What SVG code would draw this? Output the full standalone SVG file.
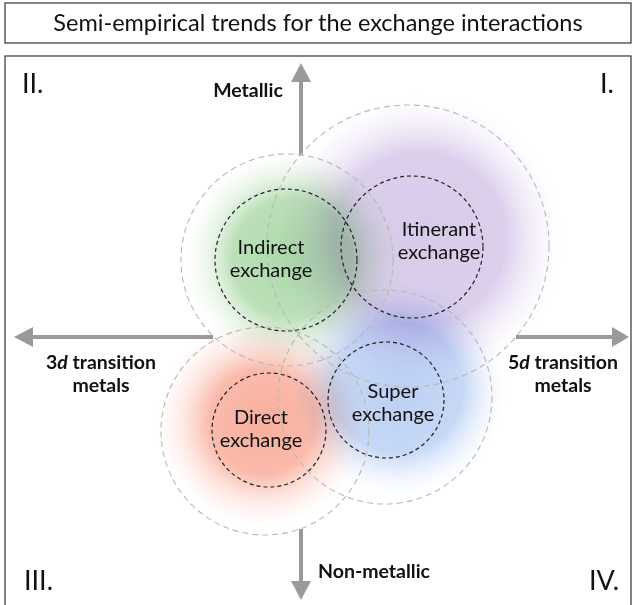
<svg xmlns="http://www.w3.org/2000/svg" width="634" height="605" viewBox="0 0 634 605">
<style>
.box{fill:#fff;stroke:#333;stroke-width:1.2}
.title{font-family:Lato,"Open Sans",sans-serif;font-size:23.5px;fill:#111;text-anchor:middle}
.quad{font-family:Lato,"Open Sans",sans-serif;font-size:27px;fill:#111}
.axl{font-family:Lato,"Open Sans",sans-serif;font-size:19.5px;font-weight:bold;fill:#111;text-anchor:middle}
.lbl{font-family:Lato,"Open Sans",sans-serif;font-size:20px;fill:#111;text-anchor:middle}
.outer{fill:none;stroke:#b8b8b8;stroke-width:1.1;stroke-dasharray:6 4}
.inner{fill:none;stroke:#222;stroke-width:1.2;stroke-dasharray:4 3}
.shaft{stroke:#9a9a9a;stroke-width:4;fill:none}
.head{fill:#9a9a9a}
.blob{mix-blend-mode:multiply}
</style>
<defs>
<radialGradient id="gGreen"><stop offset="0" stop-color="#acd9ab"/><stop offset="0.55" stop-color="#bce0b9"/><stop offset="1" stop-color="#eaf7e8" stop-opacity="0"/></radialGradient>
<radialGradient id="gPurple"><stop offset="0" stop-color="#d8cbe9"/><stop offset="0.6" stop-color="#dccfec"/><stop offset="1" stop-color="#f4eefb" stop-opacity="0"/></radialGradient>
<radialGradient id="gRed"><stop offset="0" stop-color="#f9ae9c"/><stop offset="0.5" stop-color="#fabbac"/><stop offset="1" stop-color="#fdece8" stop-opacity="0"/></radialGradient>
<radialGradient id="gBlue"><stop offset="0" stop-color="#bdd0f3"/><stop offset="0.6" stop-color="#c6d8f6"/><stop offset="1" stop-color="#ebf2fd" stop-opacity="0"/></radialGradient>
</defs>
<rect width="634" height="605" fill="#fff"/>
<g id="title">
<rect class="box" x="5" y="3" width="626" height="40"/>
<text class="title" x="318" y="31">Semi-empirical trends for the exchange interactions</text>
</g>
<g id="frame">
<rect class="box" x="5" y="56" width="626" height="560"/>
<text class="quad" x="22" y="93">II.</text>
<text class="quad" x="600" y="93">I.</text>
<text class="quad" x="24" y="590">III.</text>
<text class="quad" x="589" y="590">IV.</text>
</g>
<g id="connectors">
<line class="shaft" x1="301" y1="80" x2="301" y2="155"/>
<polygon class="head" points="301,63 291,82 311,82"/>
<line class="shaft" x1="301" y1="529" x2="301" y2="583"/>
<polygon class="head" points="301,600 291,581 311,581"/>
<line class="shaft" x1="31" y1="337" x2="213" y2="337"/>
<polygon class="head" points="14,337 33,327 33,347"/>
<line class="shaft" x1="516" y1="337" x2="614" y2="337"/>
<polygon class="head" points="629,337 612,327 612,347"/>
</g>
<g id="axis-labels">
<text class="axl" x="248" y="97">Metallic</text>
<text class="axl" x="101" y="369">3<tspan font-style="italic">d</tspan> transition</text>
<text class="axl" x="101" y="392">metals</text>
<text class="axl" x="563" y="369">5<tspan font-style="italic">d</tspan> transition</text>
<text class="axl" x="563" y="392">metals</text>
<text class="axl" x="374" y="578">Non-metallic</text>
</g>
<g id="blobs">
<circle class="blob" cx="420" cy="238" r="143" fill="url(#gPurple)"/>
<circle class="blob" cx="292" cy="258" r="108" fill="url(#gGreen)"/>
<circle class="blob" cx="398" cy="388" r="108" fill="url(#gBlue)"/>
<circle class="blob" cx="262" cy="422" r="106" fill="url(#gRed)"/>
</g>
<g id="itinerant">
<circle class="outer" cx="408" cy="246" r="141"/>
<circle class="inner" cx="412" cy="247" r="71"/>
<text class="lbl" x="439" y="236">Itinerant</text>
<text class="lbl" x="439" y="259">exchange</text>
</g>
<g id="indirect">
<circle class="outer" cx="287" cy="260" r="106"/>
<circle class="inner" cx="286" cy="260" r="71"/>
<text class="lbl" x="271" y="254">Indirect</text>
<text class="lbl" x="271" y="277">exchange</text>
</g>
<g id="super">
<circle class="outer" cx="385" cy="397" r="107"/>
<circle class="inner" cx="386" cy="400" r="58"/>
<text class="lbl" x="393" y="398">Super</text>
<text class="lbl" x="393" y="421">exchange</text>
</g>
<g id="direct">
<circle class="outer" cx="265" cy="431" r="104"/>
<circle class="inner" cx="269" cy="430" r="57"/>
<text class="lbl" x="261" y="424">Direct</text>
<text class="lbl" x="261" y="447">exchange</text>
</g>
</svg>
